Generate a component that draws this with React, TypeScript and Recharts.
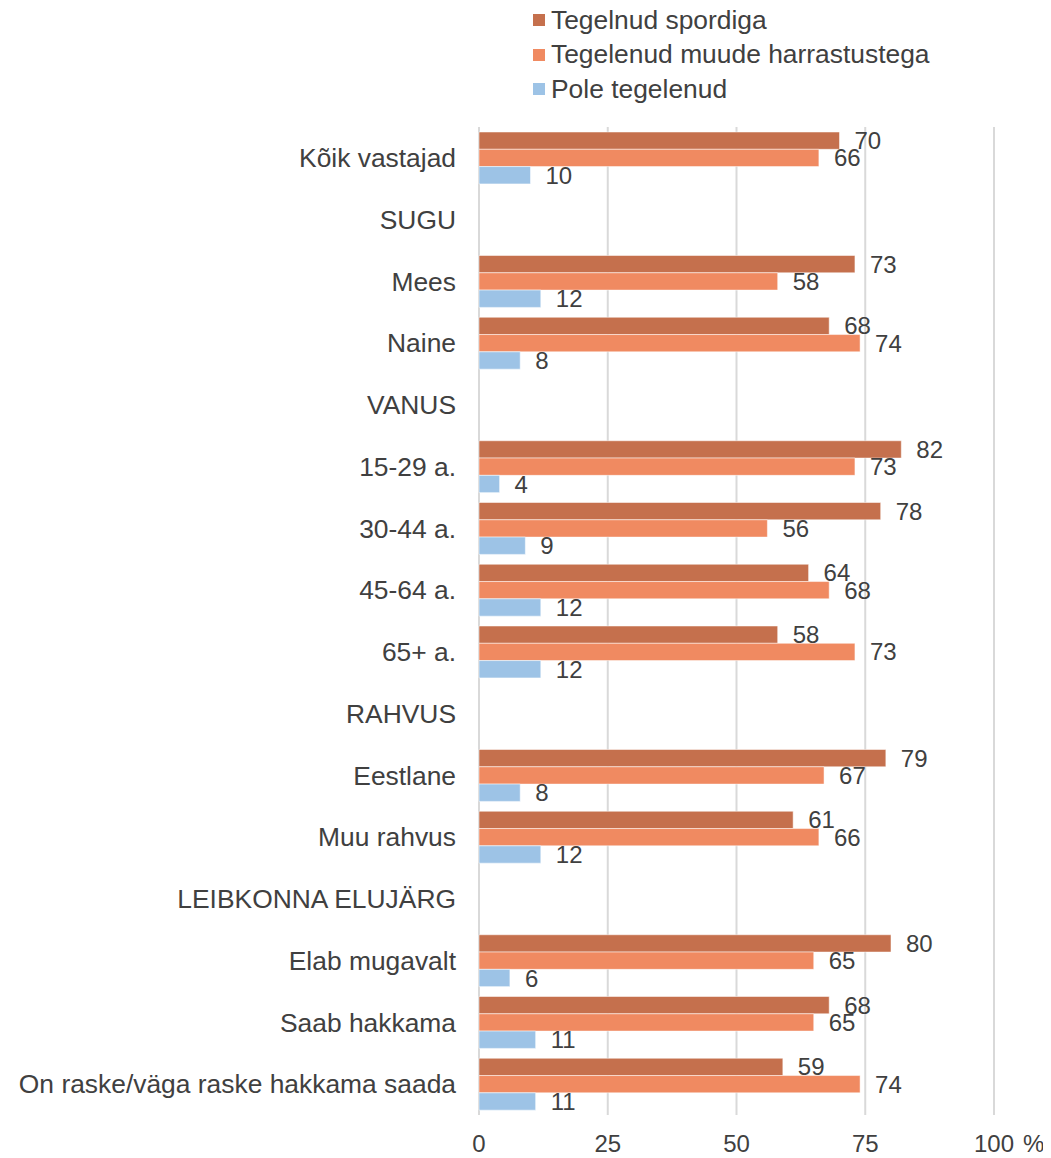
import React from 'react';
import {
  BarChart,
  Bar,
  XAxis,
  YAxis,
  CartesianGrid,
  LabelList,
} from 'recharts';

const categories = [
  'Kõik vastajad',
  'SUGU',
  'Mees',
  'Naine',
  'VANUS',
  '15-29 a.',
  '30-44 a.',
  '45-64 a.',
  '65+ a.',
  'RAHVUS',
  'Eestlane',
  'Muu rahvus',
  'LEIBKONNA ELUJÄRG',
  'Elab mugavalt',
  'Saab hakkama',
  'On raske/väga raske hakkama saada',
];

const sport = [70, null, 73, 68, null, 82, 78, 64, 58, null, 79, 61, null, 80, 68, 59];
const hobbies = [66, null, 58, 74, null, 73, 56, 68, 73, null, 67, 66, null, 65, 65, 74];
const none = [10, null, 12, 8, null, 4, 9, 12, 12, null, 8, 12, null, 6, 11, 11];

const xTicks = [0, 25, 50, 75, 100];

const series = [
  { key: 'sport', name: 'Tegelnud spordiga', color: '#C5704D' },
  { key: 'hobbies', name: 'Tegelenud muude harrastustega', color: '#F08A61' },
  { key: 'none', name: 'Pole tegelenud', color: '#9DC3E6' },
];

const data = categories.map((name, i) => ({
  name,
  sport: sport[i],
  hobbies: hobbies[i],
  none: none[i],
}));

const TEXT = '#404040';
const FONT = '"Liberation Sans", Arial, sans-serif';

function XTick(props: any) {
  const { x, y, payload } = props;
  return (
    <g>
      <text x={x} y={y} dy="0.71em" textAnchor="middle" fill={TEXT} fontSize={24} fontFamily={FONT}>
        {payload.value}
      </text>
      {payload.value === 100 && (
        <text x={x + 29} y={y} dy="0.71em" textAnchor="start" fill={TEXT} fontSize={24} fontFamily={FONT}>
          %
        </text>
      )}
    </g>
  );
}

export default function App() {
  return (
    <div style={{ position: 'relative', width: 1043, height: 1150, fontFamily: FONT }}>
      <div style={{ position: 'absolute', left: 525, top: -5, zIndex: 2 }}>
        {series.map((s) => (
          <div
            key={s.key}
            style={{ display: 'flex', alignItems: 'center', height: 34.5, color: TEXT, fontSize: 26.4 }}
          >
            <span style={{ width: 12, height: 12, background: s.color, marginRight: 6, display: 'inline-block' }} />
            <span>{s.name}</span>
          </div>
        ))}
      </div>
      <BarChart
        width={1043}
        height={1150}
        data={data}
        layout="vertical"
        margin={{ top: 119, right: 57, bottom: 13, left: 0 }}
        barSize={17.3}
        barGap={0}
      >
        <CartesianGrid horizontal={false} stroke="#D9D9D9" strokeWidth={2} />
        <XAxis
          type="number"
          domain={[0, 100]}
          ticks={xTicks}
          axisLine={false}
          tickLine={false}
          tickMargin={14}
          height={30}
          tick={<XTick />}
        />
        <YAxis
          type="category"
          dataKey="name"
          width={471}
          axisLine={false}
          tickLine={false}
          tickMargin={17}
          interval={0}
          tick={{ fill: TEXT, fontSize: 26.4, fontFamily: FONT }}
        />
        {series.map((s) => (
          <Bar
            key={s.key}
            dataKey={s.key}
            name={s.name}
            fill={s.color}
            stroke="#FFFFFF"
            strokeOpacity={0.5}
            strokeWidth={1}
            isAnimationActive={false}
          >
            <LabelList
              dataKey={s.key}
              position="right"
              offset={15}
              fill={TEXT}
              fontSize={24}
              fontFamily={FONT}
            />
          </Bar>
        ))}
      </BarChart>
    </div>
  );
}
